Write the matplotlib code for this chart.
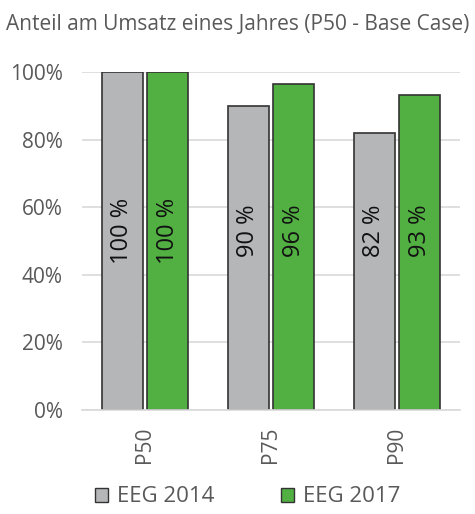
import matplotlib
matplotlib.use('Agg')
import matplotlib.pyplot as plt
from matplotlib.patches import Patch
import numpy as np

categories = ['P50', 'P75', 'P90']
eeg2014 = [100, 90, 82]
eeg2017 = [100, 96.5, 93.2]
labels2014 = ['100 %', '90 %', '82 %']
labels2017 = ['100 %', '96 %', '93 %']
series_names = ['EEG 2014', 'EEG 2017']

grey = '#B4B6B8'
green = '#52B043'
text_col = '#595959'

plt.rcParams['font.family'] = ['Open Sans', 'DejaVu Sans']

fig = plt.figure(figsize=(4.75, 5.14), dpi=100)
ax = fig.add_axes([82 / 475, 1 - 410 / 514, 378 / 475, 338 / 514])

x = np.arange(len(categories))
w = 0.33
gap = 0.015
b1 = ax.bar(x - w / 2 - gap, eeg2014, w, color=grey, edgecolor='#333333', linewidth=1.2)
b2 = ax.bar(x + w / 2 + gap, eeg2017, w, color=green, edgecolor='#333333', linewidth=1.2)

for bars, labs in ((b1, labels2014), (b2, labels2017)):
	for rect, lab in zip(bars, labs):
		ax.text(rect.get_x() + rect.get_width() / 2, 53, lab, rotation=90,
			ha='center', va='center', fontsize=17, color='#111111')

ax.set_xlim(-0.5, 2.5)
ax.set_ylim(0, 100)
ax.set_yticks(range(0, 101, 20))
ax.set_yticklabels(['{}%'.format(v) for v in range(0, 101, 20)], fontsize=15, color=text_col)
ax.set_xticks(x)
ax.set_xticklabels(categories, rotation=90, fontsize=15, color=text_col)
ax.tick_params(length=0)
ax.tick_params(axis='y', pad=14)
ax.tick_params(axis='x', pad=12)
ax.grid(axis='y', color='#D9D9D9', linewidth=1.2)
ax.set_axisbelow(True)
for s in ['top', 'right', 'left']:
	ax.spines[s].set_visible(False)
ax.spines['bottom'].set_color('#D9D9D9')
ax.spines['bottom'].set_linewidth(1.2)

fig.text(0.5, 1 - 25 / 514, 'Anteil am Umsatz eines Jahres (P50 - Base Case)',
	ha='center', va='center', fontsize=15, color=text_col)

handles = [Patch(facecolor=grey, edgecolor='#333333'), Patch(facecolor=green, edgecolor='#333333')]
fig.legend(handles, series_names, loc='center', bbox_to_anchor=(0.521, 1 - 497 / 514),
	ncol=2, frameon=False, fontsize=16, labelcolor=text_col, columnspacing=3.0,
	handlelength=0.6, handleheight=0.6, handletextpad=0.4)

fig.savefig('out.png', dpi=100)
